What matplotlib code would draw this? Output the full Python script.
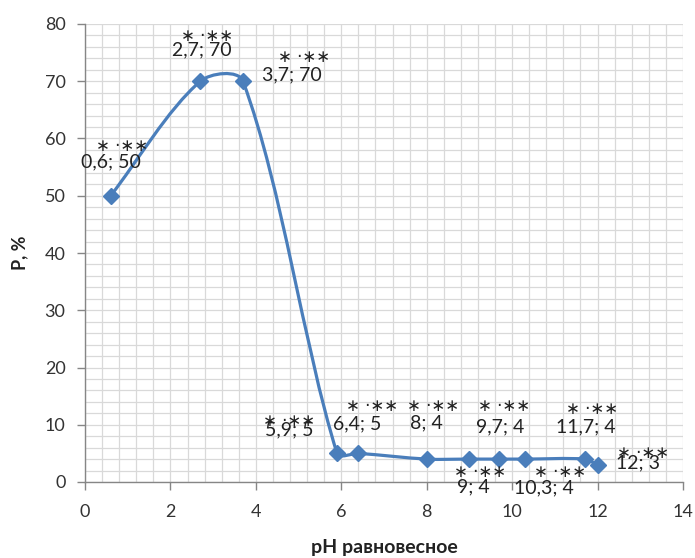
import numpy as np
import matplotlib
matplotlib.use('Agg')
import matplotlib.pyplot as plt
from matplotlib.path import Path
from matplotlib.patches import PathPatch
from matplotlib.ticker import MultipleLocator

# data
ph = [0.6, 2.7, 3.7, 5.9, 6.4, 8, 9, 9.7, 10.3, 11.7, 12]
p = [50, 70, 70, 5, 5, 4, 4, 4, 4, 4, 3]
stars = '\u2217 \u00b7\u2217\u2217'

# label offsets in pixels (label, stars)
lab_off = [(0, 34), (1, 31), (49, 6), (-48, 23), (-1, 30), (0, 36),
           (4, -28), (1, 32), (19, -29), (1, 32), (40, 2)]
star_off = [(11, 51), (7, 46), (61, 25), (-48, 33), (14, 48), (6, 54),
            (11, -12), (5, 54), (35, -12), (7, 51), (45, 13)]

plt.rcParams['font.family'] = ['Lato', 'DejaVu Sans']
blue = '#4A7EBB'
gray = '#868686'

fig = plt.figure(figsize=(6.95, 5.58), dpi=100)
ax = fig.add_axes([85/695, 1-482/558, (683-85)/695, (482-24)/558])

ax.set_xlim(0, 14)
ax.set_ylim(0, 80)
ax.xaxis.set_major_locator(MultipleLocator(2))
ax.xaxis.set_minor_locator(MultipleLocator(0.4))
ax.yaxis.set_major_locator(MultipleLocator(10))
ax.yaxis.set_minor_locator(MultipleLocator(2))
ax.grid(True, which='both', color='#D9D9D9', lw=0.9)
ax.set_axisbelow(True)
for s in ['top', 'right']:
    ax.spines[s].set_visible(False)
for s in ['left', 'bottom']:
    ax.spines[s].set_color(gray)
    ax.spines[s].set_linewidth(1.0)
ax.tick_params(which='major', direction='out', length=6, color=gray, width=1.0,
               labelsize=13, labelcolor='#333333')
ax.tick_params(which='minor', length=0)
ax.tick_params(axis='x', pad=10)
ax.tick_params(axis='y', pad=8)

# smoothed line, bezier built in pixel space like Excel does
pts = ax.transData.transform(np.column_stack([ph, p]).astype(float))
verts = [pts[0]]
codes = [Path.MOVETO]
n = len(pts)
for i in range(n - 1):
    p0 = pts[i - 1] if i > 0 else pts[i]
    p1 = pts[i]
    p2 = pts[i + 1]
    p3 = pts[i + 2] if i + 2 < n else pts[i + 1]
    seg = np.hypot(*(p2 - p1)) * 0.3
    t1 = (p2 - p0) / np.hypot(*(p2 - p0))
    t2 = (p3 - p1) / np.hypot(*(p3 - p1))
    verts += [p1 + t1 * seg, p2 - t2 * seg, p2]
    codes += [Path.CURVE4] * 3
verts = ax.transData.inverted().transform(np.array(verts))
ax.add_patch(PathPatch(Path(verts, codes), fill=False, ec=blue, lw=2.3,
                       capstyle='round', joinstyle='round'))
ax.plot(ph, p, ls='none', marker='D', ms=8, color=blue)

for i in range(n):
    txt = f"{ph[i]:g}".replace('.', ',') + '; ' + f"{p[i]:g}"
    ax.annotate(txt, (ph[i], p[i]), xytext=lab_off[i], textcoords='offset pixels',
                ha='center', va='center', fontsize=14, color='#222222')
    ax.annotate(stars, (ph[i], p[i]), xytext=(star_off[i][0], star_off[i][1] - 6),
                textcoords='offset pixels', ha='center', va='baseline',
                fontsize=12, color='#222222', family='DejaVu Sans')

ax.set_xlabel('pH равновесное', fontsize=14, fontweight='bold', color='#222222')
ax.set_ylabel('P, %', fontsize=13, fontweight='bold', color='#222222')
ax.xaxis.set_label_coords(0.5, -0.125)
ax.yaxis.set_label_coords(-0.095, 0.5)

fig.savefig('out.png', dpi=100)
